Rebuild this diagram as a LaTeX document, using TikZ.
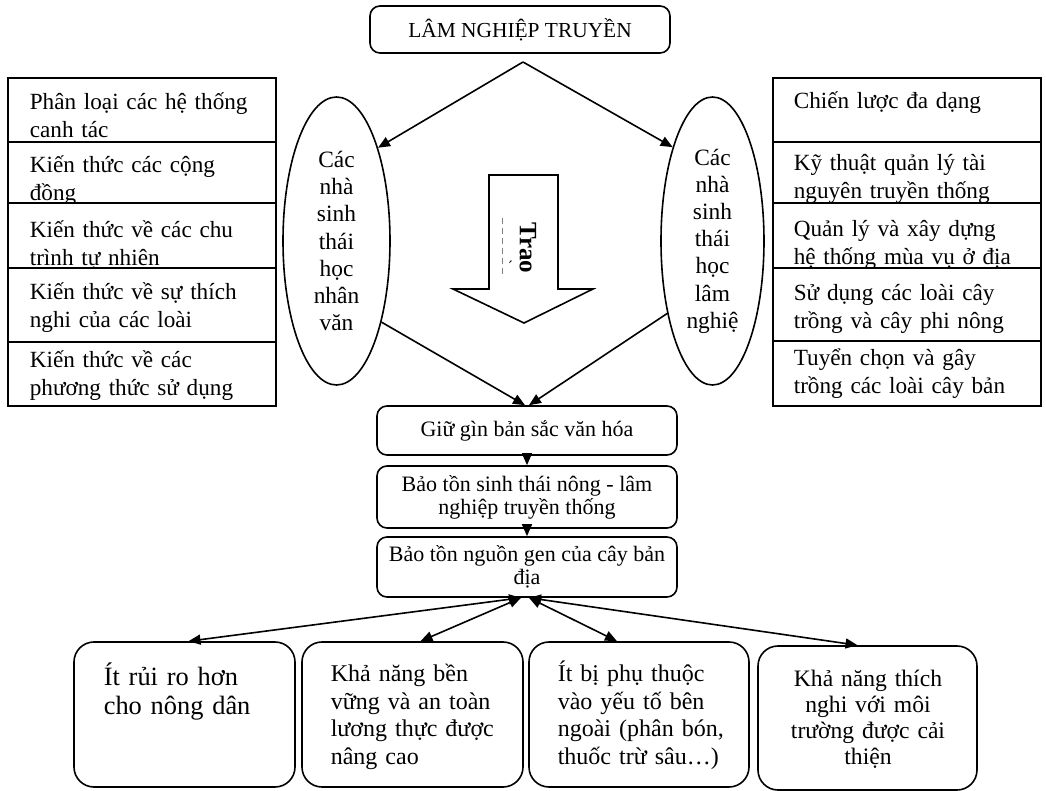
\documentclass[tikz,border=0pt]{standalone}
\usepackage{fontspec}
\setmainfont{Liberation Serif}
\usetikzlibrary{arrows.meta,shapes.geometric,positioning}

\begin{document}
\begin{tikzpicture}[x=0.5pt,y=-0.5pt,line width=0.8pt,
  every node/.style={inner sep=0pt},
  listbox/.style={draw,fill=white,anchor=north west,minimum width=134pt},
  listtext/.style={anchor=base west,text width=125pt,align=left,font=\fontsize{11.6}{14}\selectfont},
  midbox/.style={draw,fill=white,rounded corners=5pt,minimum width=150pt,align=center,font=\fontsize{11}{11.5}\selectfont},
  eco/.style={draw,ellipse,align=center,font=\fontsize{11.7}{13.6}\selectfont},
  benefit/.style={draw,rounded corners=10pt,minimum width=110.5pt,minimum height=72.5pt},
  benefittext/.style={anchor=base west,text width=100pt,align=left,font=\fontsize{12}{13.75}\selectfont},
  arr/.style={-{Triangle[length=6pt,width=5pt]}},
  dblarr/.style={{Triangle[length=6pt,width=5pt]}-{Triangle[length=6pt,width=5pt]}}]

  \useasboundingbox (0,0) rectangle (1046,791);

  % top
  \node[midbox,minimum height=23.5pt,font=\fontsize{10.7}{12}\selectfont] (top) at (520,29.5) {LÂM NGHIỆP TRUYỀN};
  \coordinate (apex) at (523,62);

  % left column
  \foreach \yt/\h/\yb/\txt [count=\i] in {
      77/32/110/{Phân loại các hệ thống\\canh tác},
      141/30.5/173/{Kiến thức các cộng\\đồng},
      202/32.5/238/{Kiến thức về các chu\\trình tự nhiên},
      267/37/300/{Kiến thức về sự thích\\nghi của các loài},
      341/32/368/{Kiến thức về các\\phương thức sử dụng}}
  {
    \node[listbox,minimum height=\h pt] (lbox\i) at (7,\yt) {};
    \node[listtext] (ltext\i) at (29,\yb) {\txt};
  }

  % right column
  \foreach \yt/\h/\yb/\txt [count=\i] in {
      77/32/109/{Chiến lược đa dạng},
      141/30.5/171/{Kỹ thuật quản lý tài\\nguyên truyền thống},
      202/32.5/237/{Quản lý và xây dựng\\hệ thống mùa vụ ở địa},
      267/36.5/301/{Sử dụng các loài cây\\trồng và cây phi nông},
      340/32.5/366/{Tuyển chọn và gây\\trồng các loài cây bản}}
  {
    \node[listbox,minimum height=\h pt] (rbox\i) at (772,\yt) {};
    \node[listtext] (rtext\i) at (793,\yb) {\txt};
  }

  % ecologists
  \node[eco,minimum width=53.5pt,minimum height=144pt] (lell) at (336.5,241) {Các\\nhà\\sinh\\thái\\học\\nhân\\văn};
  \node[eco,minimum width=51.5pt,minimum height=144pt] (rell) at (712.5,241) {Các\\nhà\\sinh\\thái\\học\\lâm\\nghiệ};

  % exchange arrow
  \draw (489,175) -- (558,175) -- (558,289) -- (593,289) -- (524,323) -- (453,289) -- (489,289) -- cycle;
  \node[rotate=-90,font=\bfseries\fontsize{12.5}{14}\selectfont] (trao) at (528,248) {Trao};
  \draw[densely dashed,line width=0.3pt,gray] (502,218) -- (502,278);
  \node[rotate=-90,font=\fontsize{8}{8}\selectfont] (traomark) at (506,262) {\textasciigrave};

  % centre chain
  \node[midbox,minimum height=24.5pt] (keep) at (527,430.5) {Giữ gìn bản sắc văn hóa};
  \node[midbox,minimum height=31pt] (ecoc) at (527,497) {Bảo tồn sinh thái nông - lâm\\nghiệp truyền thống};
  \node[midbox,minimum height=30pt] (gene) at (527,567) {Bảo tồn nguồn gen của cây bản\\địa};

  % benefits
  \node[benefit] (b1) at (184.5,714.5) {};
  \node[benefittext,font=\fontsize{13.2}{15}\selectfont] (t1) at (103,685) {Ít rủi ro hơn\\cho nông dân};
  \node[benefit] (b2) at (412.5,714.5) {};
  \node[benefittext] (t2) at (330,682) {Khả năng bền\\vững và an toàn\\lương thực được\\nâng cao};
  \node[benefit,minimum width=110pt] (b3) at (639,714.5) {};
  \node[benefittext] (t3) at (557,682) {Ít bị phụ thuộc\\vào yếu tố bên\\ngoài (phân bón,\\thuốc trừ sâu…)};
  \node[benefit,minimum width=109.5pt,minimum height=72pt] (b4) at (867.5,718) {};
  \node[benefittext,anchor=base,align=center,font=\fontsize{11.8}{13}\selectfont] (t4) at (868,687) {Khả năng thích\\nghi với môi\\trường được cải\\thiện};

  % connectors
  \draw[arr] (apex) -- (lell.66);
  \draw[arr] (apex) -- (rell.113);
  \draw[arr] (lell.-61) -- ([xshift=-1pt]keep.north);
  \draw[arr] (rell.-122) -- ([xshift=1pt]keep.north);
  \draw[arr] (keep.south) -- (ecoc.north);
  \draw[arr] (ecoc.south) -- (gene.north);
  \draw[dblarr] ([xshift=-3pt]gene.south) -- ([xshift=2pt]b1.north);
  \draw[dblarr] ([xshift=-3pt]gene.south) -- ([xshift=4pt]b2.north);
  \draw[dblarr] ([xshift=1pt]gene.south) -- ([xshift=-11pt]b3.north);
  \draw[dblarr] ([xshift=1pt]gene.south) -- ([xshift=-5pt]b4.north);
\end{tikzpicture}
\end{document}
